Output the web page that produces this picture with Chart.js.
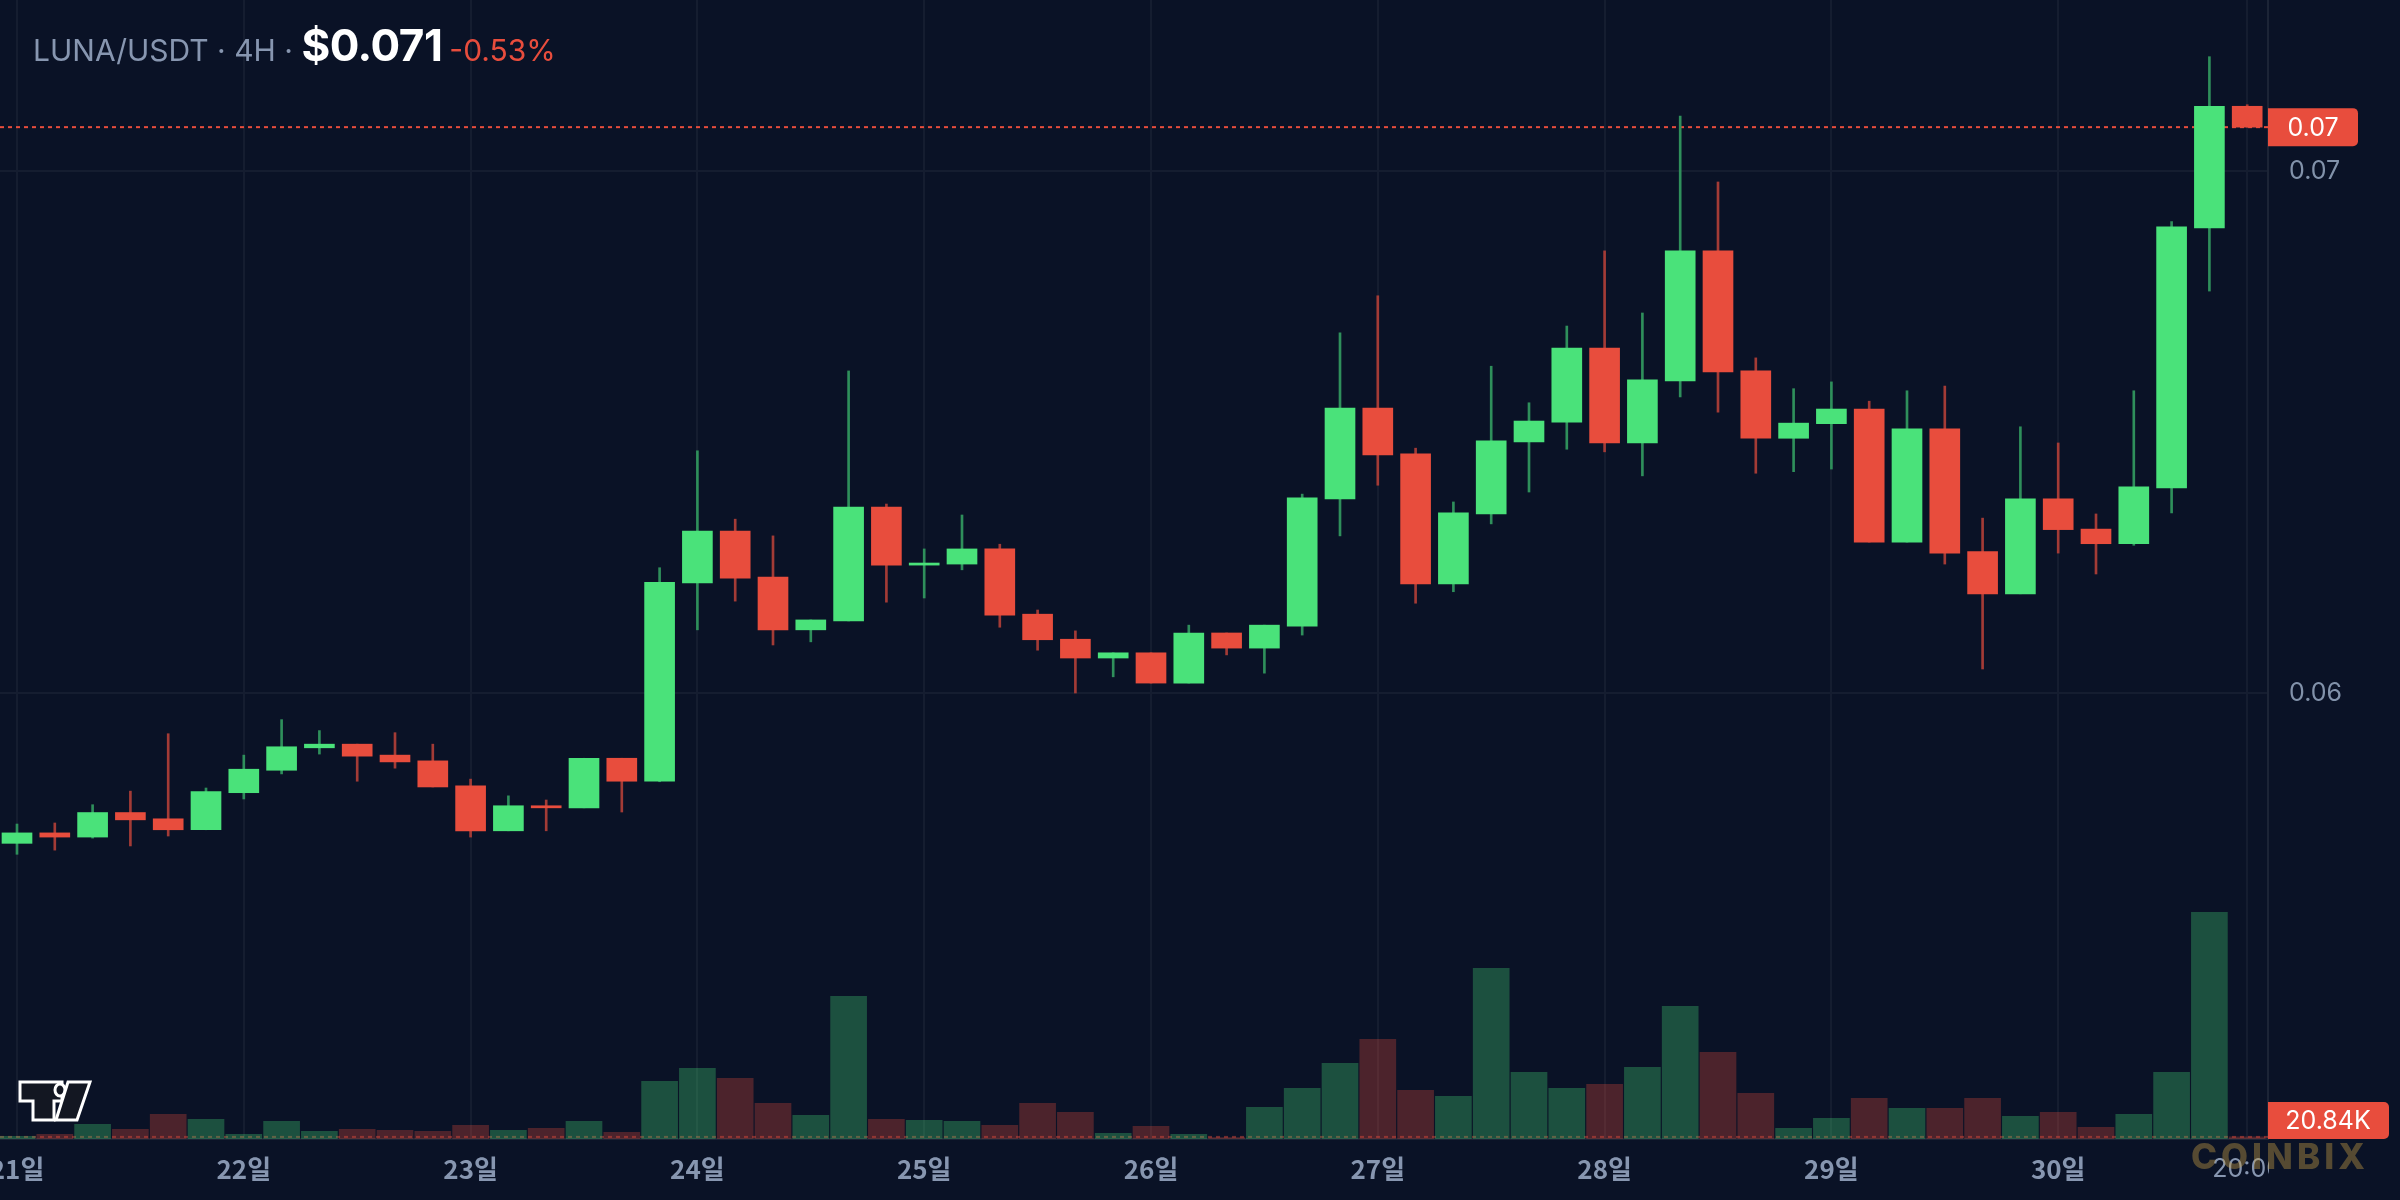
<!DOCTYPE html>
<html>
<head>
<meta charset="utf-8">
<script src="https://cdn.jsdelivr.net/npm/chart.js@4.4.1/dist/chart.umd.min.js"></script>
<style>
  html, body { margin: 0; padding: 0; background: #0a1226; }
  #wrap { position: relative; width: 2400px; height: 1200px; overflow: hidden; background: #0a1226; }
  canvas { display: block; }
  #head { position: absolute; left: 33px; top: 22px; font-family: Inter, "Noto Sans", sans-serif; white-space: nowrap; line-height: 46px; }
  #head .sym { font-size: 30px; color: #8796b0; }
  #head .px { font-size: 44px; font-weight: 700; color: #ffffff; letter-spacing: -0.5px; }
  #head .chg { font-size: 30px; color: #e84d3d; margin-left: 7px; }
  #mark { position: absolute; left: 2191px; top: 1136px; font-family: Inter, sans-serif; font-weight: 800; font-size: 35px; letter-spacing: 4px; color: rgba(200, 160, 70, 0.4); line-height: 40px; }
  #logo { position: absolute; left: 16px; top: 1078px; }
</style>
</head>
<body>
<div id="wrap">
  <canvas id="chart" width="2400" height="1200"></canvas>
  <div id="head"><span class="sym">LUNA/USDT · 4H · </span><span class="px" id="lastPx"></span><span class="chg" id="chg"></span></div>
  <div id="mark">COINBIX</div>
  <svg id="logo" width="80" height="48" viewBox="16 1078 80 48">
    <g fill="#131722" stroke="#ffffff" stroke-width="3" stroke-linejoin="miter">
      <polygon points="20,1082 62,1082 62,1101 54,1101 54,1120 33,1120 33,1101 20,1101"/>
      <ellipse cx="60" cy="1090" rx="5" ry="6"/>
      <polygon points="68,1082 90,1082 77,1120 56,1120"/>
    </g>
  </svg>
</div>
<script>
// 4H candles, 21일 00:00 .. 30일 20:00
var opens = [0.05712, 0.05732, 0.05724, 0.05771, 0.05759, 0.05738, 0.05809, 0.05852, 0.05895, 0.05902,
             0.05881, 0.05870, 0.05822, 0.05736, 0.05784, 0.05780, 0.05875, 0.05831, 0.06211, 0.06310,
             0.06222, 0.06121, 0.06138, 0.06356, 0.06245, 0.06247, 0.06276, 0.06151, 0.06103, 0.06067,
             0.06077, 0.06019, 0.06115, 0.06086, 0.06128, 0.06372, 0.06546, 0.06458, 0.06209, 0.06343,
             0.06481, 0.06519, 0.06661, 0.06479, 0.06598, 0.06847, 0.06617, 0.06488, 0.06516, 0.06544,
             0.06289, 0.06506, 0.06271, 0.06190, 0.06372, 0.06314, 0.06286, 0.06393, 0.06891, 0.07124];
var highs = [0.05749, 0.05751, 0.05786, 0.05812, 0.05922, 0.05818, 0.05881, 0.05949, 0.05928, 0.05902,
             0.05924, 0.05902, 0.05835, 0.05803, 0.05795, 0.05875, 0.05875, 0.06240, 0.06464, 0.06333,
             0.06301, 0.06140, 0.06617, 0.06362, 0.06276, 0.06341, 0.06285, 0.06159, 0.06119, 0.06077,
             0.06077, 0.06130, 0.06115, 0.06130, 0.06381, 0.06690, 0.06761, 0.06469, 0.06366, 0.06626,
             0.06556, 0.06703, 0.06847, 0.06728, 0.07105, 0.06979, 0.06642, 0.06583, 0.06596, 0.06559,
             0.06579, 0.06588, 0.06335, 0.06510, 0.06479, 0.06343, 0.06579, 0.06903, 0.07219, 0.07127];
var lows = [0.05691, 0.05699, 0.05722, 0.05707, 0.05726, 0.05738, 0.05797, 0.05845, 0.05883, 0.05831,
            0.05856, 0.05820, 0.05724, 0.05736, 0.05736, 0.05780, 0.05772, 0.05830, 0.06121, 0.06176,
            0.06092, 0.06098, 0.06138, 0.06174, 0.06182, 0.06236, 0.06126, 0.06082, 0.06000, 0.06031,
            0.06019, 0.06019, 0.06073, 0.06038, 0.06111, 0.06301, 0.06398, 0.06172, 0.06194, 0.06324,
            0.06385, 0.06467, 0.06462, 0.06416, 0.06567, 0.06538, 0.06421, 0.06424, 0.06429, 0.06289,
            0.06289, 0.06247, 0.06046, 0.06190, 0.06268, 0.06228, 0.06283, 0.06345, 0.06770, 0.07084];
var closes = [0.05732, 0.05724, 0.05771, 0.05757, 0.05738, 0.05811, 0.05854, 0.05897, 0.05902, 0.05879,
              0.05868, 0.05820, 0.05736, 0.05784, 0.05780, 0.05875, 0.05831, 0.06212, 0.06310, 0.06220,
              0.06121, 0.06140, 0.06356, 0.06245, 0.06249, 0.06276, 0.06149, 0.06102, 0.06067, 0.06077,
              0.06019, 0.06115, 0.06086, 0.06130, 0.06374, 0.06546, 0.06456, 0.06209, 0.06345, 0.06483,
              0.06521, 0.06661, 0.06479, 0.06600, 0.06847, 0.06615, 0.06488, 0.06517, 0.06544, 0.06289,
              0.06506, 0.06268, 0.06190, 0.06372, 0.06313, 0.06286, 0.06395, 0.06893, 0.07124, 0.07084];
// volume, thousands
var volumes = [27, 47, 147, 97, 247, 197, 47, 177, 77, 97,
               87, 77, 137, 87, 107, 177, 67, 577, 707, 607,
               357, 237, 1427, 197, 187, 177, 137, 357, 267, 57,
               127, 47, 15, 317, 507, 757, 997, 487, 427, 1707,
               667, 507, 547, 717, 1327, 867, 457, 107, 207, 407,
               307, 307, 407, 227, 267, 117, 247, 667, 2267, 20.84];

var tickIndex = [0, 6, 12, 18, 24, 30, 36, 42, 48, 54, 59];
var tickLabels = ['21일', '22일', '23일', '24일', '25일', '26일', '27일', '28일', '29일', '30일', '20:00'];
var priceTicks = [0.06, 0.07];
var changePct = '-0.53%';

var UP = '#4ae27a', DOWN = '#e84d3d';
var UP_WICK = '#2f8f5b', DOWN_WICK = '#a33b36';
var UP_VOL = 'rgba(74,226,122,0.3)', DOWN_VOL = 'rgba(232,77,61,0.3)';
var BG = '#0a1226', GRID = '#151d30', EDGE = '#1c2436', TEXT = '#8796b0';
var last = closes.length - 1;

var isUp = closes.map(function (c, i) { return c >= opens[i]; });
var bodies = closes.map(function (c, i) { return { x: i, y: [opens[i], c] }; });
var wicks = highs.map(function (h, i) { return { x: i, y: [lows[i], h] }; });
var vols = volumes.map(function (v, i) { return { x: i, y: v }; });

document.getElementById('lastPx').textContent = '$' + closes[last].toFixed(3);
document.getElementById('chg').textContent = changePct;

// last price / last volume lines and axis tags
var overlay = {
    id: 'overlay',
    beforeDatasetsDraw: function (chart) {
        var ctx = chart.ctx, a = chart.chartArea;
        var y = chart.scales.y.getPixelForValue(closes[last]);
        var yv = chart.scales.yv.getPixelForValue(volumes[last]);
        ctx.save();
        ctx.lineWidth = 2;
        ctx.setLineDash([4, 4]);
        ctx.strokeStyle = DOWN;
        ctx.beginPath(); ctx.moveTo(a.left, y); ctx.lineTo(a.right, y); ctx.stroke();
        ctx.strokeStyle = 'rgba(232,77,61,0.45)';
        ctx.beginPath(); ctx.moveTo(a.left, yv); ctx.lineTo(a.right, yv); ctx.stroke();
        ctx.restore();
    },
    afterDraw: function (chart) {
        var ctx = chart.ctx, a = chart.chartArea;
        ctx.save();
        // the time label stops at the price scale
        ctx.fillStyle = BG;
        ctx.fillRect(a.right + 1, a.bottom + 2, chart.width - a.right, chart.height - a.bottom);

        ctx.font = '25px Inter, sans-serif';
        ctx.textAlign = 'center';
        ctx.textBaseline = 'middle';

        var y = chart.scales.y.getPixelForValue(closes[last]);
        ctx.fillStyle = DOWN;
        ctx.beginPath(); ctx.roundRect(a.right, y - 19, 90, 38, [0, 5, 5, 0]); ctx.fill();
        ctx.fillStyle = '#ffffff';
        ctx.fillText(closes[last].toFixed(2), a.right + 45, y + 1);

        var yv = Math.min(chart.scales.yv.getPixelForValue(volumes[last]), a.bottom - 18);
        ctx.fillStyle = DOWN;
        ctx.beginPath(); ctx.roundRect(a.right, yv - 19, 121, 37, [0, 5, 5, 0]); ctx.fill();
        ctx.fillStyle = '#ffffff';
        ctx.fillText(volumes[last].toFixed(2) + 'K', a.right + 60, yv);
        ctx.restore();
    }
};

var ctx = document.getElementById('chart').getContext('2d');
var chart = new Chart(ctx, {
    type: 'bar',
    data: {
        datasets: [{
            label: 'body',
            data: bodies,
            backgroundColor: isUp.map(function (u) { return u ? UP : DOWN; }),
            barThickness: 30,
            borderWidth: 0,
            yAxisID: 'y',
            order: 1
        }, {
            label: 'wick',
            data: wicks,
            backgroundColor: isUp.map(function (u) { return u ? UP_WICK : DOWN_WICK; }),
            barThickness: 2,
            borderWidth: 0,
            yAxisID: 'y',
            order: 2
        }, {
            label: 'volume',
            data: vols,
            backgroundColor: isUp.map(function (u) { return u ? UP_VOL : DOWN_VOL; }),
            barThickness: 36,
            borderWidth: 0,
            yAxisID: 'yv',
            order: 3
        }]
    },
    options: {
        responsive: false,
        devicePixelRatio: 1,
        animation: false,
        layout: { padding: 0 },
        datasets: { bar: { grouped: false } },
        plugins: { legend: { display: false }, tooltip: { enabled: false } },
        scales: {
            x: {
                type: 'linear',
                offset: false,
                min: -17 / 37.8,
                max: (2268 - 17) / 37.8,
                afterBuildTicks: function (s) { s.ticks = tickIndex.map(function (v) { return { value: v }; }); },
                afterFit: function (s) { s.height = 61; s.paddingLeft = 0; s.paddingRight = 0; },
                grid: { color: GRID, lineWidth: 2, drawTicks: false, offset: false },
                border: { display: true, color: EDGE, width: 2 },
                ticks: {
                    autoSkip: false,
                    maxRotation: 0,
                    padding: 15,
                    color: TEXT,
                    font: function (c) {
                        return c.index === tickIndex.length - 1
                            ? { family: 'Inter, sans-serif', size: 25 }
                            : { family: '"Noto Sans CJK KR", sans-serif', size: 26, weight: 600 };
                    },
                    callback: function (v, i) { return tickLabels[i]; }
                }
            },
            y: {
                position: 'right',
                min: 0.07 - (1139 - 171) / 52200,
                max: 0.07 + 171 / 52200,
                afterBuildTicks: function (s) { s.ticks = priceTicks.map(function (v) { return { value: v }; }); },
                afterFit: function (s) { s.width = 132; s.paddingTop = 0; s.paddingBottom = 0; },
                grid: { color: GRID, lineWidth: 2, drawTicks: false },
                border: { display: true, color: EDGE, width: 2 },
                ticks: {
                    padding: 21,
                    color: '#8292aa',
                    font: { family: 'Inter, sans-serif', size: 25 },
                    callback: function (v) { return v.toFixed(2); }
                }
            },
            yv: {
                display: false,
                min: 0,
                max: 11390
            }
        }
    },
    plugins: [overlay]
});
</script>
</body>
</html>
